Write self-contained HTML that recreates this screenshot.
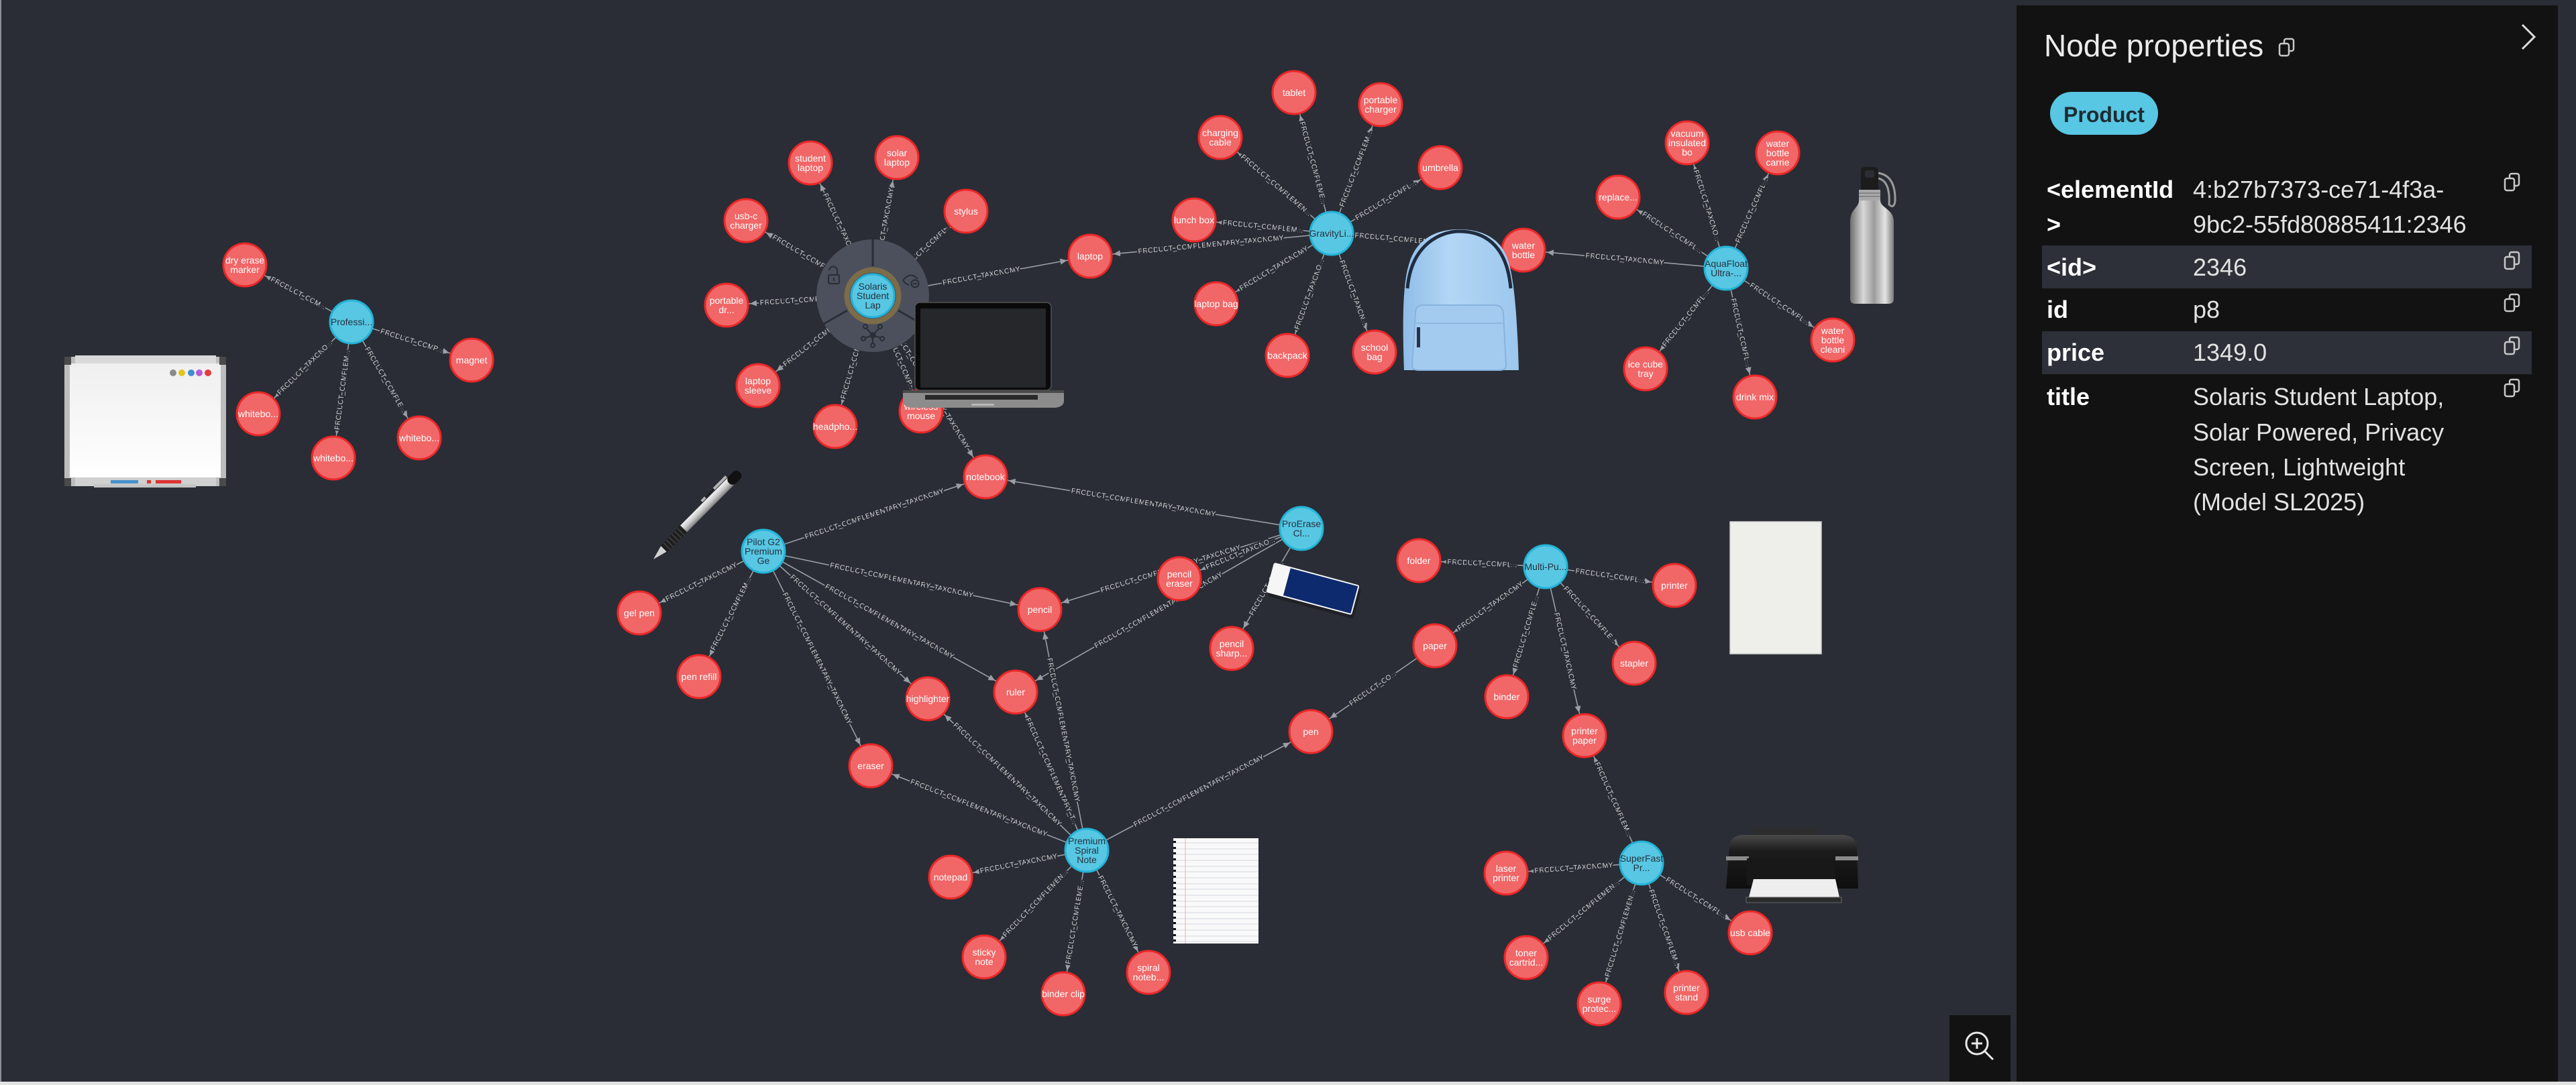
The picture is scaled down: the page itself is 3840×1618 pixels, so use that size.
<!DOCTYPE html>
<html><head><meta charset="utf-8">
<style>
html,body{margin:0;padding:0;background:#2a2d35;}
body{width:3840px;height:1618px;overflow:hidden;}
svg{display:block;}
.ed{stroke:#9a9ea6;stroke-width:1.6;fill:none;}
.el{font-family:"Liberation Sans",sans-serif;font-size:10.5px;fill:#d4d5d8;text-anchor:middle;dominant-baseline:central;paint-order:stroke;stroke:#2a2d35;stroke-width:5px;stroke-linejoin:round;}
.r circle{fill:#f16667;stroke:#eb2728;stroke-width:3;}
.b circle{fill:#57c7e3;stroke:#23b3d7;stroke-width:3;}
.r text,.b text{font-family:"Liberation Sans",sans-serif;font-size:14px;text-anchor:middle;}
.r text{fill:#ffffff;}
.b text{fill:#26323e;}
.pt{font-family:"Liberation Sans",sans-serif;}
.k{font-family:"Liberation Sans",sans-serif;font-size:36px;font-weight:bold;fill:#ffffff;}
.v{font-family:"Liberation Sans",sans-serif;font-size:36px;fill:#e2e2e2;}
.cp rect{stroke:#c8c8c8;stroke-width:2.5;}
</style></head><body>
<svg width="3840" height="1618" viewBox="0 0 3840 1618">
<defs>
<marker id="ae" markerUnits="userSpaceOnUse" markerWidth="12" markerHeight="12" refX="45" refY="4.5" orient="auto" style="overflow:visible"><path d="M0,0 L10,4.5 L0,9 z" fill="#9a9ea6"/></marker>
<marker id="as" markerUnits="userSpaceOnUse" markerWidth="12" markerHeight="12" refX="45" refY="4.5" orient="auto-start-reverse" style="overflow:visible"><path d="M0,0 L10,4.5 L0,9 z" fill="#9a9ea6"/></marker>
<linearGradient id="gsil" x1="0" x2="1" y1="0" y2="0"><stop offset="0" stop-color="#6e6e6e"/><stop offset=".3" stop-color="#d8d8d8"/><stop offset=".55" stop-color="#9c9c9c"/><stop offset=".8" stop-color="#e4e4e4"/><stop offset="1" stop-color="#7a7a7a"/></linearGradient>
<linearGradient id="gpen" x1="0" x2="0" y1="0" y2="1"><stop offset="0" stop-color="#f4f4f4"/><stop offset=".5" stop-color="#c9c9c9"/><stop offset="1" stop-color="#7d7d7d"/></linearGradient>
<linearGradient id="gprn" x1="0" x2="0" y1="0" y2="1"><stop offset="0" stop-color="#4a4a4a"/><stop offset=".3" stop-color="#1c1c1c"/><stop offset="1" stop-color="#0e0e0e"/></linearGradient>
<linearGradient id="gwb" x1="0" x2="0" y1="0" y2="1"><stop offset="0" stop-color="#efefef"/><stop offset="1" stop-color="#ffffff"/></linearGradient>
<linearGradient id="gbp" x1="0" x2="1" y1="0" y2="0"><stop offset="0" stop-color="#8fbde8"/><stop offset=".4" stop-color="#b3d6f5"/><stop offset="1" stop-color="#9cc7ee"/></linearGradient>
</defs>

<rect x="0" y="0" width="3840" height="1618" fill="#2a2d35"/>
<rect x="0" y="0" width="2" height="1618" fill="#8c8f95"/>

<!-- EDGES -->
<g>
<path id="e1" class="ed" d="M365,395 L524,480" marker-start="url(#as)"/>
<path id="e2" class="ed" d="M524,480 L703,537" marker-end="url(#ae)"/>
<path id="e3" class="ed" d="M385,617 L524,480" marker-start="url(#as)"/>
<path id="e4" class="ed" d="M497,683 L524,480" marker-start="url(#as)"/>
<path id="e5" class="ed" d="M524,480 L625,653" marker-end="url(#ae)"/>
<path id="e6" class="ed" d="M1208,243 L1301,441" marker-start="url(#as)"/>
<path id="e7" class="ed" d="M1301,441 L1337,235" marker-end="url(#ae)"/>
<path id="e8" class="ed" d="M1301,441 L1440,315" marker-end="url(#ae)"/>
<path id="e9" class="ed" d="M1301,441 L1625,382" marker-end="url(#ae)"/>
<path id="e10" class="ed" d="M1112,329 L1301,441" marker-start="url(#as)"/>
<path id="e11" class="ed" d="M1083,455 L1301,441" marker-start="url(#as)"/>
<path id="e12" class="ed" d="M1130,575 L1301,441" marker-start="url(#as)"/>
<path id="e13" class="ed" d="M1245,636 L1301,441" marker-start="url(#as)"/>
<path id="e14" class="ed" d="M1301,441 L1373,613" marker-end="url(#ae)"/>
<path id="e15" class="ed" d="M1301,441 L1469,711" marker-end="url(#ae)"/>
<path id="e16" class="ed" d="M1929,138 L1985,348" marker-start="url(#as)"/>
<path id="e17" class="ed" d="M1985,348 L2058,156" marker-end="url(#ae)"/>
<path id="e18" class="ed" d="M1819,205 L1985,348" marker-start="url(#as)"/>
<path id="e19" class="ed" d="M1985,348 L2147,250" marker-end="url(#ae)"/>
<path id="e20" class="ed" d="M1780,328 L1985,348" marker-start="url(#as)"/>
<path id="e21" class="ed" d="M1625,382 L1985,348" marker-start="url(#as)"/>
<path id="e22" class="ed" d="M1985,348 L2271,373" marker-end="url(#ae)"/>
<path id="e23" class="ed" d="M1813,453 L1985,348" marker-start="url(#as)"/>
<path id="e24" class="ed" d="M1919,530 L1985,348" marker-start="url(#as)"/>
<path id="e25" class="ed" d="M1985,348 L2049,525" marker-end="url(#ae)"/>
<path id="e26" class="ed" d="M2515,213 L2573,400" marker-start="url(#as)"/>
<path id="e27" class="ed" d="M2573,400 L2650,228" marker-end="url(#ae)"/>
<path id="e28" class="ed" d="M2412,294 L2573,400" marker-start="url(#as)"/>
<path id="e29" class="ed" d="M2271,373 L2573,400" marker-start="url(#as)"/>
<path id="e30" class="ed" d="M2573,400 L2732,507" marker-end="url(#ae)"/>
<path id="e31" class="ed" d="M2453,550 L2573,400" marker-start="url(#as)"/>
<path id="e32" class="ed" d="M2573,400 L2616,592" marker-end="url(#ae)"/>
<path id="e33" class="ed" d="M1138,822 L1469,711" marker-end="url(#ae)"/>
<path id="e34" class="ed" d="M1138,822 L1550,909" marker-end="url(#ae)"/>
<path id="e35" class="ed" d="M1138,822 L1514,1032" marker-end="url(#ae)"/>
<path id="e36" class="ed" d="M1138,822 L1383,1042" marker-end="url(#ae)"/>
<path id="e37" class="ed" d="M1138,822 L1298,1142" marker-end="url(#ae)"/>
<path id="e38" class="ed" d="M953,914 L1138,822" marker-start="url(#as)"/>
<path id="e39" class="ed" d="M1042,1009 L1138,822" marker-start="url(#as)"/>
<path id="e40" class="ed" d="M1469,711 L1940,788" marker-start="url(#as)"/>
<path id="e41" class="ed" d="M1550,909 L1940,788" marker-start="url(#as)"/>
<path id="e42" class="ed" d="M1758,863 L1940,788" marker-start="url(#as)"/>
<path id="e43" class="ed" d="M1514,1032 L1940,788" marker-start="url(#as)"/>
<path id="e44" class="ed" d="M1836,967 L1940,788" marker-start="url(#as)"/>
<path id="e45" class="ed" d="M1298,1142 L1620,1268" marker-start="url(#as)"/>
<path id="e46" class="ed" d="M1383,1042 L1620,1268" marker-start="url(#as)"/>
<path id="e47" class="ed" d="M1514,1032 L1620,1268" marker-start="url(#as)"/>
<path id="e48" class="ed" d="M1550,909 L1620,1268" marker-start="url(#as)"/>
<path id="e49" class="ed" d="M1620,1268 L1954,1091" marker-end="url(#ae)"/>
<path id="e50" class="ed" d="M1417,1308 L1620,1268" marker-start="url(#as)"/>
<path id="e51" class="ed" d="M1467,1427 L1620,1268" marker-start="url(#as)"/>
<path id="e52" class="ed" d="M1585,1482 L1620,1268" marker-start="url(#as)"/>
<path id="e53" class="ed" d="M1620,1268 L1712,1450" marker-end="url(#ae)"/>
<path id="e54" class="ed" d="M2115,836 L2304,845" marker-start="url(#as)"/>
<path id="e55" class="ed" d="M2304,845 L2496,873" marker-end="url(#ae)"/>
<path id="e56" class="ed" d="M2139,963 L2304,845" marker-start="url(#as)"/>
<path id="e57" class="ed" d="M2246,1039 L2304,845" marker-start="url(#as)"/>
<path id="e58" class="ed" d="M2304,845 L2362,1097" marker-end="url(#ae)"/>
<path id="e59" class="ed" d="M2304,845 L2436,989" marker-end="url(#ae)"/>
<path id="e60" class="ed" d="M1954,1091 L2139,963" marker-start="url(#as)"/>
<path id="e61" class="ed" d="M2362,1097 L2447,1287" marker-start="url(#as)"/>
<path id="e62" class="ed" d="M2245,1302 L2447,1287" marker-start="url(#as)"/>
<path id="e63" class="ed" d="M2275,1428 L2447,1287" marker-start="url(#as)"/>
<path id="e64" class="ed" d="M2384,1497 L2447,1287" marker-start="url(#as)"/>
<path id="e65" class="ed" d="M2447,1287 L2514,1480" marker-end="url(#ae)"/>
<path id="e66" class="ed" d="M2447,1287 L2609,1391" marker-end="url(#ae)"/>
</g>

<!-- EDGE LABELS -->
<g>
<text class="el"><textPath href="#e1" startOffset="50%">PRODUCT_COM...</textPath></text>
<text class="el"><textPath href="#e2" startOffset="50%">PRODUCT_COMP...</textPath></text>
<text class="el"><textPath href="#e3" startOffset="50%">PRODUCT_TAXONO...</textPath></text>
<text class="el"><textPath href="#e4" startOffset="50%">PRODUCT_COMPLEM...</textPath></text>
<text class="el"><textPath href="#e5" startOffset="50%">PRODUCT_COMPLE...</textPath></text>
<text class="el"><textPath href="#e6" startOffset="50%">PRODUCT_TAXONOMY</textPath></text>
<text class="el"><textPath href="#e7" startOffset="50%">PRODUCT_TAXONOMY</textPath></text>
<text class="el"><textPath href="#e8" startOffset="55%">PRODUCT_COMPL...</textPath></text>
<text class="el"><textPath href="#e9" startOffset="50%">PRODUCT_TAXONOMY</textPath></text>
<text class="el"><textPath href="#e10" startOffset="45%">PRODUCT_COMPL...</textPath></text>
<text class="el"><textPath href="#e11" startOffset="45%">PRODUCT_COMP...</textPath></text>
<text class="el"><textPath href="#e12" startOffset="45%">PRODUCT_COMP...</textPath></text>
<text class="el"><textPath href="#e13" startOffset="45%">PRODUCT_COMP...</textPath></text>
<text class="el"><textPath href="#e14" startOffset="55%">PRODUCT_COMP...</textPath></text>
<text class="el"><textPath href="#e15" startOffset="50%">PRODUCT_COMPLEMENTARY_TAXONOMY</textPath></text>
<text class="el"><textPath href="#e16" startOffset="50%">PRODUCT_COMPLEME...</textPath></text>
<text class="el"><textPath href="#e17" startOffset="50%">PRODUCT_COMPLEM...</textPath></text>
<text class="el"><textPath href="#e18" startOffset="50%">PRODUCT_COMPLEMEN...</textPath></text>
<text class="el"><textPath href="#e19" startOffset="50%">PRODUCT_COMPL...</textPath></text>
<text class="el"><textPath href="#e20" startOffset="50%">PRODUCT_COMPLEM...</textPath></text>
<text class="el"><textPath href="#e21" startOffset="50%">PRODUCT_COMPLEMENTARY_TAXONOMY</textPath></text>
<text class="el"><textPath href="#e22" startOffset="50%">PRODUCT_COMPLEMENTARY_TAXONOMY</textPath></text>
<text class="el"><textPath href="#e23" startOffset="50%">PRODUCT_TAXONOMY</textPath></text>
<text class="el"><textPath href="#e24" startOffset="50%">PRODUCT_TAXONO...</textPath></text>
<text class="el"><textPath href="#e25" startOffset="50%">PRODUCT_TAXON...</textPath></text>
<text class="el"><textPath href="#e26" startOffset="50%">PRODUCT_TAXONO...</textPath></text>
<text class="el"><textPath href="#e27" startOffset="50%">PRODUCT_COMPL...</textPath></text>
<text class="el"><textPath href="#e28" startOffset="50%">PRODUCT_COMPL...</textPath></text>
<text class="el"><textPath href="#e29" startOffset="50%">PRODUCT_TAXONOMY</textPath></text>
<text class="el"><textPath href="#e30" startOffset="50%">PRODUCT_COMPL...</textPath></text>
<text class="el"><textPath href="#e31" startOffset="50%">PRODUCT_COMPL...</textPath></text>
<text class="el"><textPath href="#e32" startOffset="50%">PRODUCT_COMPL...</textPath></text>
<text class="el"><textPath href="#e33" startOffset="50%">PRODUCT_COMPLEMENTARY_TAXONOMY</textPath></text>
<text class="el"><textPath href="#e34" startOffset="50%">PRODUCT_COMPLEMENTARY_TAXONOMY</textPath></text>
<text class="el"><textPath href="#e35" startOffset="50%">PRODUCT_COMPLEMENTARY_TAXONOMY</textPath></text>
<text class="el"><textPath href="#e36" startOffset="50%">PRODUCT_COMPLEMENTARY_TAXONOMY</textPath></text>
<text class="el"><textPath href="#e37" startOffset="50%">PRODUCT_COMPLEMENTARY_TAXONOMY</textPath></text>
<text class="el"><textPath href="#e38" startOffset="50%">PRODUCT_TAXONOMY</textPath></text>
<text class="el"><textPath href="#e39" startOffset="50%">PRODUCT_COMPLEM...</textPath></text>
<text class="el"><textPath href="#e40" startOffset="50%">PRODUCT_COMPLEMENTARY_TAXONOMY</textPath></text>
<text class="el"><textPath href="#e41" startOffset="50%">PRODUCT_COMPLEMENTARY_TAXONOMY</textPath></text>
<text class="el"><textPath href="#e42" startOffset="50%">PRODUCT_TAXONO...</textPath></text>
<text class="el"><textPath href="#e43" startOffset="50%">PRODUCT_COMPLEMENTARY_TAXONOMY</textPath></text>
<text class="el"><textPath href="#e44" startOffset="50%">PRODUCT_COM...</textPath></text>
<text class="el"><textPath href="#e45" startOffset="50%">PRODUCT_COMPLEMENTARY_TAXONOMY</textPath></text>
<text class="el"><textPath href="#e46" startOffset="50%">PRODUCT_COMPLEMENTARY_TAXONOMY</textPath></text>
<text class="el"><textPath href="#e47" startOffset="50%">PRODUCT_COMPLEMENTARY_T...</textPath></text>
<text class="el"><textPath href="#e48" startOffset="50%">PRODUCT_COMPLEMENTARY_TAXONOMY</textPath></text>
<text class="el"><textPath href="#e49" startOffset="50%">PRODUCT_COMPLEMENTARY_TAXONOMY</textPath></text>
<text class="el"><textPath href="#e50" startOffset="50%">PRODUCT_TAXONOMY</textPath></text>
<text class="el"><textPath href="#e51" startOffset="50%">PRODUCT_COMPLEMEN...</textPath></text>
<text class="el"><textPath href="#e52" startOffset="50%">PRODUCT_COMPLEME...</textPath></text>
<text class="el"><textPath href="#e53" startOffset="50%">PRODUCT_TAXONOMY</textPath></text>
<text class="el"><textPath href="#e54" startOffset="50%">PRODUCT_COMPL...</textPath></text>
<text class="el"><textPath href="#e55" startOffset="50%">PRODUCT_COMPL...</textPath></text>
<text class="el"><textPath href="#e56" startOffset="50%">PRODUCT_TAXONOMY</textPath></text>
<text class="el"><textPath href="#e57" startOffset="50%">PRODUCT_COMPLE...</textPath></text>
<text class="el"><textPath href="#e58" startOffset="50%">PRODUCT_TAXONOMY</textPath></text>
<text class="el"><textPath href="#e59" startOffset="50%">PRODUCT_COMPLE...</textPath></text>
<text class="el"><textPath href="#e60" startOffset="50%">PRODUCT_CO...</textPath></text>
<text class="el"><textPath href="#e61" startOffset="50%">PRODUCT_COMPLEM...</textPath></text>
<text class="el"><textPath href="#e62" startOffset="50%">PRODUCT_TAXONOMY</textPath></text>
<text class="el"><textPath href="#e63" startOffset="50%">PRODUCT_COMPLEMEN...</textPath></text>
<text class="el"><textPath href="#e64" startOffset="50%">PRODUCT_COMPLEMEN...</textPath></text>
<text class="el"><textPath href="#e65" startOffset="50%">PRODUCT_COMPLEM...</textPath></text>
<text class="el"><textPath href="#e66" startOffset="50%">PRODUCT_COMPL...</textPath></text>
</g>

<!-- Solaris radial menu -->
<g>
<circle cx="1301" cy="441" r="84" fill="#4b505c"/>
<g stroke="#2a2d35" stroke-width="3">
<line x1="1301" y1="397" x2="1301" y2="357"/>
<line x1="1263" y1="463" x2="1228" y2="483"/>
<line x1="1339" y1="463" x2="1374" y2="483"/>
</g>
<g stroke="#2b2f38" stroke-width="2.2" fill="none">
<rect x="1235" y="410" width="16" height="13" rx="1.5"/>
<path d="M1248,410 V404 A6,6 0 0 0 1236,403"/>
<line x1="1243" y1="414" x2="1243" y2="419"/>
<path d="M1346,418 Q1357,404 1368,416"/>
<path d="M1346,418 Q1350,424 1355,425"/>
<circle cx="1364" cy="423" r="5.5"/>
<line x1="1361" y1="423" x2="1367" y2="423"/>
<line x1="1301" y1="500" x2="1291" y2="489"/>
<line x1="1301" y1="500" x2="1311" y2="489"/>
<line x1="1301" y1="500" x2="1289" y2="504"/>
<line x1="1301" y1="500" x2="1313" y2="504"/>
<line x1="1301" y1="500" x2="1301" y2="513"/>
<circle cx="1301" cy="500" r="3.5"/>
<circle cx="1290" cy="487" r="3"/>
<circle cx="1312" cy="487" r="3"/>
<circle cx="1287" cy="505" r="3"/>
<circle cx="1315" cy="505" r="3"/>
<circle cx="1301" cy="515" r="3"/>
</g>
<circle cx="1301" cy="441" r="38.5" fill="none" stroke="#7d6c49" stroke-width="8"/>
</g>

<!-- NODES blue -->
<g class="b" transform="translate(524,480)"><circle r="32"/><text y="5">Professi...</text></g>
<g class="b" transform="translate(1301,441)"><circle r="32"/><text><tspan x="0" y="-9">Solaris</tspan><tspan x="0" y="5">Student</tspan><tspan x="0" y="19">Lap</tspan></text></g>
<g class="b" transform="translate(1985,348)"><circle r="32"/><text y="5">GravityLi...</text></g>
<g class="b" transform="translate(2573,400)"><circle r="32"/><text><tspan x="0" y="-2">AquaFloat</tspan><tspan x="0" y="12">Ultra-...</tspan></text></g>
<g class="b" transform="translate(1138,822)"><circle r="32"/><text><tspan x="0" y="-9">Pilot G2</tspan><tspan x="0" y="5">Premium</tspan><tspan x="0" y="19">Ge</tspan></text></g>
<g class="b" transform="translate(1940,788)"><circle r="32"/><text><tspan x="0" y="-2">ProErase</tspan><tspan x="0" y="12">Cl...</tspan></text></g>
<g class="b" transform="translate(2304,845)"><circle r="32"/><text y="5">Multi-Pu...</text></g>
<g class="b" transform="translate(1620,1268)"><circle r="32"/><text><tspan x="0" y="-9">Premium</tspan><tspan x="0" y="5">Spiral</tspan><tspan x="0" y="19">Note</tspan></text></g>
<g class="b" transform="translate(2447,1287)"><circle r="32"/><text><tspan x="0" y="-2">SuperFast</tspan><tspan x="0" y="12">Pr...</tspan></text></g>

<!-- NODES red -->
<g class="r" transform="translate(365,395)"><circle r="32"/><text><tspan x="0" y="-2">dry erase</tspan><tspan x="0" y="12">marker</tspan></text></g>
<g class="r" transform="translate(703,537)"><circle r="32"/><text y="5">magnet</text></g>
<g class="r" transform="translate(385,617)"><circle r="32"/><text y="5">whitebo...</text></g>
<g class="r" transform="translate(497,683)"><circle r="32"/><text y="5">whitebo...</text></g>
<g class="r" transform="translate(625,653)"><circle r="32"/><text y="5">whitebo...</text></g>
<g class="r" transform="translate(1208,243)"><circle r="32"/><text><tspan x="0" y="-2">student</tspan><tspan x="0" y="12">laptop</tspan></text></g>
<g class="r" transform="translate(1337,235)"><circle r="32"/><text><tspan x="0" y="-2">solar</tspan><tspan x="0" y="12">laptop</tspan></text></g>
<g class="r" transform="translate(1112,329)"><circle r="32"/><text><tspan x="0" y="-2">usb-c</tspan><tspan x="0" y="12">charger</tspan></text></g>
<g class="r" transform="translate(1440,315)"><circle r="32"/><text y="5">stylus</text></g>
<g class="r" transform="translate(1625,382)"><circle r="32"/><text y="5">laptop</text></g>
<g class="r" transform="translate(1083,455)"><circle r="32"/><text><tspan x="0" y="-2">portable</tspan><tspan x="0" y="12">dr...</tspan></text></g>
<g class="r" transform="translate(1130,575)"><circle r="32"/><text><tspan x="0" y="-2">laptop</tspan><tspan x="0" y="12">sleeve</tspan></text></g>
<g class="r" transform="translate(1245,636)"><circle r="32"/><text y="5">headpho...</text></g>
<g class="r" transform="translate(1373,613)"><circle r="32"/><text><tspan x="0" y="-2">wireless</tspan><tspan x="0" y="12">mouse</tspan></text></g>
<g class="r" transform="translate(1469,711)"><circle r="32"/><text y="5">notebook</text></g>
<g class="r" transform="translate(1929,138)"><circle r="32"/><text y="5">tablet</text></g>
<g class="r" transform="translate(2058,156)"><circle r="32"/><text><tspan x="0" y="-2">portable</tspan><tspan x="0" y="12">charger</tspan></text></g>
<g class="r" transform="translate(1819,205)"><circle r="32"/><text><tspan x="0" y="-2">charging</tspan><tspan x="0" y="12">cable</tspan></text></g>
<g class="r" transform="translate(2147,250)"><circle r="32"/><text y="5">umbrella</text></g>
<g class="r" transform="translate(1780,328)"><circle r="32"/><text y="5">lunch box</text></g>
<g class="r" transform="translate(2271,373)"><circle r="32"/><text><tspan x="0" y="-2">water</tspan><tspan x="0" y="12">bottle</tspan></text></g>
<g class="r" transform="translate(1813,453)"><circle r="32"/><text y="5">laptop bag</text></g>
<g class="r" transform="translate(1919,530)"><circle r="32"/><text y="5">backpack</text></g>
<g class="r" transform="translate(2049,525)"><circle r="32"/><text><tspan x="0" y="-2">school</tspan><tspan x="0" y="12">bag</tspan></text></g>
<g class="r" transform="translate(2515,213)"><circle r="32"/><text><tspan x="0" y="-9">vacuum</tspan><tspan x="0" y="5">insulated</tspan><tspan x="0" y="19">bo</tspan></text></g>
<g class="r" transform="translate(2650,228)"><circle r="32"/><text><tspan x="0" y="-9">water</tspan><tspan x="0" y="5">bottle</tspan><tspan x="0" y="19">carrie</tspan></text></g>
<g class="r" transform="translate(2412,294)"><circle r="32"/><text y="5">replace...</text></g>
<g class="r" transform="translate(2732,507)"><circle r="32"/><text><tspan x="0" y="-9">water</tspan><tspan x="0" y="5">bottle</tspan><tspan x="0" y="19">cleani</tspan></text></g>
<g class="r" transform="translate(2453,550)"><circle r="32"/><text><tspan x="0" y="-2">ice cube</tspan><tspan x="0" y="12">tray</tspan></text></g>
<g class="r" transform="translate(2616,592)"><circle r="32"/><text y="5">drink mix</text></g>
<g class="r" transform="translate(953,914)"><circle r="32"/><text y="5">gel pen</text></g>
<g class="r" transform="translate(1042,1009)"><circle r="32"/><text y="5">pen refill</text></g>
<g class="r" transform="translate(1550,909)"><circle r="32"/><text y="5">pencil</text></g>
<g class="r" transform="translate(1383,1042)"><circle r="32"/><text y="5">highlighter</text></g>
<g class="r" transform="translate(1514,1032)"><circle r="32"/><text y="5">ruler</text></g>
<g class="r" transform="translate(1298,1142)"><circle r="32"/><text y="5">eraser</text></g>
<g class="r" transform="translate(1758,863)"><circle r="32"/><text><tspan x="0" y="-2">pencil</tspan><tspan x="0" y="12">eraser</tspan></text></g>
<g class="r" transform="translate(1836,967)"><circle r="32"/><text><tspan x="0" y="-2">pencil</tspan><tspan x="0" y="12">sharp...</tspan></text></g>
<g class="r" transform="translate(1954,1091)"><circle r="32"/><text y="5">pen</text></g>
<g class="r" transform="translate(2115,836)"><circle r="32"/><text y="5">folder</text></g>
<g class="r" transform="translate(2496,873)"><circle r="32"/><text y="5">printer</text></g>
<g class="r" transform="translate(2139,963)"><circle r="32"/><text y="5">paper</text></g>
<g class="r" transform="translate(2436,989)"><circle r="32"/><text y="5">stapler</text></g>
<g class="r" transform="translate(2246,1039)"><circle r="32"/><text y="5">binder</text></g>
<g class="r" transform="translate(2362,1097)"><circle r="32"/><text><tspan x="0" y="-2">printer</tspan><tspan x="0" y="12">paper</tspan></text></g>
<g class="r" transform="translate(1417,1308)"><circle r="32"/><text y="5">notepad</text></g>
<g class="r" transform="translate(1467,1427)"><circle r="32"/><text><tspan x="0" y="-2">sticky</tspan><tspan x="0" y="12">note</tspan></text></g>
<g class="r" transform="translate(1585,1482)"><circle r="32"/><text y="5">binder clip</text></g>
<g class="r" transform="translate(1712,1450)"><circle r="32"/><text><tspan x="0" y="-2">spiral</tspan><tspan x="0" y="12">noteb...</tspan></text></g>
<g class="r" transform="translate(2245,1302)"><circle r="32"/><text><tspan x="0" y="-2">laser</tspan><tspan x="0" y="12">printer</tspan></text></g>
<g class="r" transform="translate(2275,1428)"><circle r="32"/><text><tspan x="0" y="-2">toner</tspan><tspan x="0" y="12">cartrid...</tspan></text></g>
<g class="r" transform="translate(2384,1497)"><circle r="32"/><text><tspan x="0" y="-2">surge</tspan><tspan x="0" y="12">protec...</tspan></text></g>
<g class="r" transform="translate(2514,1480)"><circle r="32"/><text><tspan x="0" y="-2">printer</tspan><tspan x="0" y="12">stand</tspan></text></g>
<g class="r" transform="translate(2609,1391)"><circle r="32"/><text y="5">usb cable</text></g>

<!-- IMAGES -->
<!-- whiteboard -->
<g>
<rect x="96" y="532" width="241" height="193" fill="#bdbdbd"/>
<rect x="112" y="530" width="210" height="14" fill="#d9d9d9"/>
<rect x="104" y="542" width="225" height="170" fill="url(#gwb)"/>
<rect x="96" y="532" width="10" height="12" fill="#4a4a4a"/>
<rect x="327" y="532" width="10" height="12" fill="#4a4a4a"/>
<rect x="96" y="713" width="10" height="12" fill="#4a4a4a"/>
<rect x="327" y="713" width="10" height="12" fill="#4a4a4a"/>
<rect x="112" y="712" width="210" height="13" fill="#d0d0d0"/>
<rect x="140" y="722" width="152" height="5" fill="#c4c4c4"/>
<rect x="165" y="716" width="41" height="5" fill="#4a90c8"/>
<rect x="219" y="716" width="6" height="5" fill="#d33"/>
<rect x="232" y="716" width="38" height="5" fill="#d33"/>
<circle cx="258" cy="556" r="5" fill="#8a8a8a"/>
<circle cx="271" cy="556" r="5" fill="#e3c31e"/>
<circle cx="285" cy="556" r="5" fill="#3d8fd1"/>
<circle cx="297" cy="556" r="5" fill="#b65ad6"/>
<circle cx="310" cy="556" r="5" fill="#e43b3b"/>
</g>

<!-- laptop -->
<g>
<rect x="1364" y="451" width="203" height="131" rx="7" fill="#0a0a0a" stroke="#555" stroke-width="1.5"/>
<rect x="1372" y="460" width="187" height="118" fill="#26272b"/>
<path d="M1346,582 H1586 V598 Q1586,606 1574,608 H1358 Q1346,606 1346,598 Z" fill="#8c8c8c"/>
<rect x="1346" y="582" width="240" height="4" fill="#4a4a4a"/>
<rect x="1379" y="589" width="168" height="7" fill="#2a2a2a"/>
<rect x="1448" y="602" width="34" height="3" rx="1.5" fill="#b8b8b8"/>
</g>

<!-- backpack -->
<g>
<path d="M2093,552 C2090,470 2092,420 2100,395 C2112,350 2150,342 2175,342 C2205,342 2240,352 2250,395 C2258,425 2262,480 2264,552 Z" fill="url(#gbp)"/>
<path d="M2098,430 C2104,362 2150,345 2175,345 C2210,345 2246,362 2252,430" fill="none" stroke="#1f2c40" stroke-width="5"/>
<path d="M2110,467 Q2110,455 2122,455 H2228 Q2240,455 2241,467 L2245,545 Q2245,552 2235,552 H2115 Q2105,552 2105,545 Z" fill="#a2cbef" stroke="#87b3de" stroke-width="2"/>
<path d="M2108,482 H2243" stroke="#8cb8e0" stroke-width="2"/>
<rect x="2112" y="488" width="5" height="30" fill="#2a3346"/>
</g>

<!-- bottle -->
<g>
<path d="M2800,258 Q2826,262 2825,300 Q2823,312 2816,305 Q2818,270 2800,266" fill="none" stroke="#9a9a9a" stroke-width="3"/>
<rect x="2774" y="249" width="26" height="36" rx="5" fill="#1c1c1c"/>
<rect x="2780" y="254" width="14" height="11" rx="3" fill="#2a2d35"/>
<rect x="2771" y="283" width="32" height="17" fill="#a9a9a9"/>
<path d="M2771,288 H2803 M2771,293 H2803" stroke="#7c7c7c" stroke-width="1.5"/>
<path d="M2771,299 C2771,310 2758,312 2758,330 V446 Q2758,453 2766,453 H2815 Q2823,453 2823,446 V330 C2823,312 2803,310 2803,299 Z" fill="url(#gsil)"/>
</g>

<!-- pen -->
<g transform="translate(974,834) rotate(-45.2)">
<path d="M0,0 L22,-6 L22,6 Z" fill="#d2d2d2"/>
<rect x="22" y="-7" width="42" height="14" fill="#1e1e1e"/>
<path d="M28,-7 V7 M34,-7 V7 M40,-7 V7 M46,-7 V7 M52,-7 V7 M58,-7 V7" stroke="#444" stroke-width="1.5"/>
<rect x="64" y="-7" width="100" height="14" fill="url(#gpen)"/>
<rect x="112" y="-12" width="52" height="4" fill="#b5b5b5"/>
<rect x="120" y="-12" width="18" height="4" fill="#222"/>
<rect x="160" y="-7.5" width="23" height="15" rx="7" fill="#111"/>
</g>

<!-- eraser -->
<g transform="translate(1957,878) rotate(15)">
<rect x="-62" y="-18" width="132" height="46" rx="3" fill="#000" opacity="0.25"/>
<rect x="-66" y="-23" width="132" height="46" rx="3" fill="#f6f6f6"/>
<rect x="-40" y="-21" width="104" height="42" fill="#0d2a6e"/>
</g>

<!-- paper sheet -->
<rect x="2579" y="778" width="136" height="197" fill="#eeeeeb" stroke="#cfcfcb" stroke-width="1.5"/>

<!-- notebook paper -->
<g>
<rect x="1749" y="1250" width="127" height="157" fill="#f9f9f9"/>
<path d="M1749,1257 H1876 M1749,1266 H1876 M1749,1274 H1876 M1749,1283 H1876 M1749,1292 H1876 M1749,1300 H1876 M1749,1309 H1876 M1749,1318 H1876 M1749,1326 H1876 M1749,1335 H1876 M1749,1344 H1876 M1749,1352 H1876 M1749,1361 H1876 M1749,1370 H1876 M1749,1378 H1876 M1749,1387 H1876 M1749,1396 H1876 M1749,1404 H1876" stroke="#d2d8e0" stroke-width="1"/>
<line x1="1767" y1="1250" x2="1767" y2="1407" stroke="#efb0b0" stroke-width="1"/>
<path d="M1751,1254 v3 M1751,1263 v3 M1751,1271 v3 M1751,1280 v3 M1751,1289 v3 M1751,1297 v3 M1751,1306 v3 M1751,1315 v3 M1751,1323 v3 M1751,1332 v3 M1751,1341 v3 M1751,1349 v3 M1751,1358 v3 M1751,1367 v3 M1751,1375 v3 M1751,1384 v3 M1751,1393 v3 M1751,1401 v3" stroke="#111" stroke-width="4"/>
</g>

<!-- printer -->
<g>
<rect x="2614" y="1235" width="98" height="13" rx="2" fill="#2c2c2c"/>
<path d="M2578,1262 Q2580,1245 2600,1245 H2745 Q2766,1245 2768,1262 L2770,1325 H2573 Z" fill="url(#gprn)"/>
<rect x="2573" y="1277" width="34" height="6" fill="#8a8a8a"/>
<rect x="2736" y="1277" width="34" height="6" fill="#8a8a8a"/>
<rect x="2604" y="1280" width="132" height="40" fill="#181818"/>
<path d="M2614,1311 L2736,1311 L2742,1338 L2607,1338 Z" fill="#eeeeee"/>
<rect x="2603" y="1338" width="142" height="8" fill="#2b2b2b" stroke="#666" stroke-width="1"/>
</g>

<!-- zoom button -->
<rect x="2906" y="1514" width="91" height="99" fill="#121212"/>
<g stroke="#e8e8e8" stroke-width="3" fill="none">
<circle cx="2947" cy="1556" r="16"/>
<line x1="2947" y1="1548" x2="2947" y2="1564"/>
<line x1="2939" y1="1556" x2="2955" y2="1556"/>
<line x1="2959" y1="1568" x2="2971" y2="1580"/>
</g>

<!-- PANEL -->
<rect x="3006" y="8" width="807" height="1605" fill="#121212"/>
<text class="pt" x="3047" y="84" font-size="46" fill="#ececec">Node properties</text>
<g class="cp" transform="translate(3396,57)" fill="#121212"><rect x="9" y="1" width="14" height="18" rx="3"/><rect x="2" y="8" width="14" height="18" rx="3"/></g>
<path d="M3760,37 L3778,55 L3760,73" stroke="#dddddd" stroke-width="3" fill="none"/>
<rect x="3056" y="137" width="161" height="64" rx="32" fill="#57c7e3"/>
<text class="pt" x="3136.5" y="182" font-size="32" font-weight="bold" fill="#1f2b33" text-anchor="middle">Product</text>

<rect x="3044" y="366" width="730" height="64" fill="#2d3039"/>
<rect x="3044" y="494" width="730" height="64" fill="#2d3039"/>

<text class="k" x="3051" y="295">&lt;elementId</text>
<text class="k" x="3051" y="347">&gt;</text>
<text class="v" x="3269" y="295">4:b27b7373-ce71-4f3a-</text>
<text class="v" x="3269" y="347">9bc2-55fd80885411:2346</text>

<text class="k" x="3051" y="411">&lt;id&gt;</text>
<text class="v" x="3269" y="411">2346</text>

<text class="k" x="3051" y="474">id</text>
<text class="v" x="3269" y="474">p8</text>

<text class="k" x="3051" y="538">price</text>
<text class="v" x="3269" y="538">1349.0</text>

<text class="k" x="3051" y="604">title</text>
<text class="v" x="3269" y="604">Solaris Student Laptop,</text>
<text class="v" x="3269" y="657">Solar Powered, Privacy</text>
<text class="v" x="3269" y="709">Screen, Lightweight</text>
<text class="v" x="3269" y="761">(Model SL2025)</text>

<g class="cp" transform="translate(3732,258)" fill="#121212"><rect x="9" y="1" width="14" height="18" rx="3"/><rect x="2" y="8" width="14" height="18" rx="3"/></g>
<g class="cp" transform="translate(3732,375)" fill="#2d3039"><rect x="9" y="1" width="14" height="18" rx="3"/><rect x="2" y="8" width="14" height="18" rx="3"/></g>
<g class="cp" transform="translate(3732,438)" fill="#121212"><rect x="9" y="1" width="14" height="18" rx="3"/><rect x="2" y="8" width="14" height="18" rx="3"/></g>
<g class="cp" transform="translate(3732,502)" fill="#2d3039"><rect x="9" y="1" width="14" height="18" rx="3"/><rect x="2" y="8" width="14" height="18" rx="3"/></g>
<g class="cp" transform="translate(3732,565)" fill="#121212"><rect x="9" y="1" width="14" height="18" rx="3"/><rect x="2" y="8" width="14" height="18" rx="3"/></g>

<!-- bottom strip -->
<rect x="0" y="1613" width="3840" height="5" fill="#e2e2e2"/>
</svg>
</body></html>
